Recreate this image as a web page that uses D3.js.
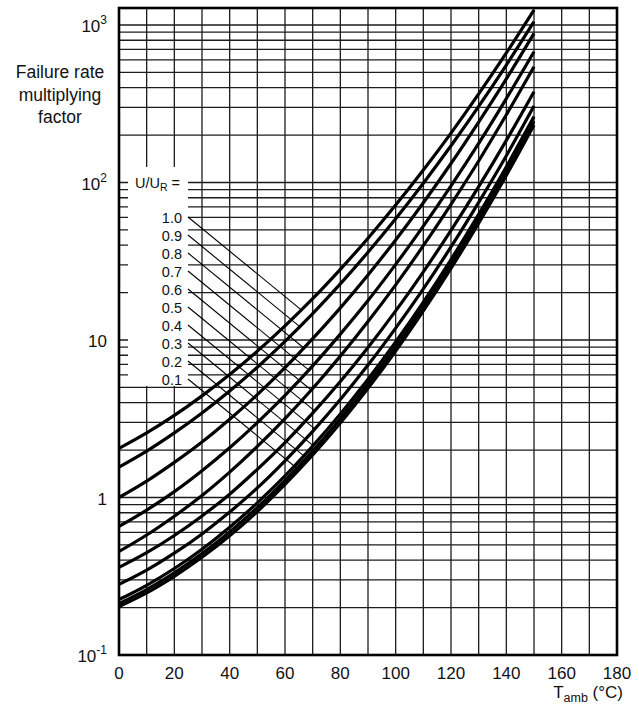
<!DOCTYPE html>
<html>
<head>
<meta charset="utf-8">
<script src="https://cdn.jsdelivr.net/npm/d3@7"></script>
<style>
  body { margin: 0; background: #fff; }
  svg { display: block; }
  text { font-family: "Liberation Sans", Arial, Helvetica, sans-serif; fill: #111; }
</style>
</head>
<body>
<div id="chart"></div>
<script>
// ambient temperature, degC
const temps = [0, 10, 20, 30, 40, 50, 60, 70, 80, 90, 100, 110, 120, 130, 140, 150];
const ratioLabels = ["1.0", "0.9", "0.8", "0.7", "0.6", "0.5", "0.4", "0.3", "0.2", "0.1"];

// failure rate multiplying factor
const f10 = [2.05, 2.57, 3.32, 4.42, 6.04, 8.50, 12.3, 18.3, 28.1, 44.3, 71.9, 120, 206, 365, 665, 1245];
const f09 = [1.56, 1.97, 2.57, 3.44, 4.74, 6.72, 9.80, 14.7, 22.7, 36.1, 58.9, 99.0, 171, 304, 557, 1050];
const f08 = [1.00, 1.27, 1.67, 2.25, 3.14, 4.50, 6.67, 10.2, 16.0, 25.9, 43.2, 74.4, 132, 242, 455, 885];
const f07 = [0.655, 0.832, 1.09, 1.48, 2.07, 2.99, 4.45, 6.85, 10.9, 17.8, 30.2, 52.8, 95.2, 177, 341, 676];
const f06 = [0.454, 0.578, 0.761, 1.03, 1.45, 2.11, 3.17, 4.92, 7.90, 13.1, 22.4, 39.7, 72.7, 137, 269, 543];
const f05 = [0.360, 0.446, 0.574, 0.764, 1.05, 1.51, 2.23, 3.43, 5.45, 8.97, 15.3, 27.1, 49.6, 94.1, 185, 377];
const f04 = [0.281, 0.346, 0.443, 0.587, 0.808, 1.15, 1.71, 2.63, 4.19, 6.93, 11.9, 21.1, 39.0, 74.8, 148, 306];
const f03 = [0.225, 0.277, 0.354, 0.469, 0.647, 0.925, 1.37, 2.12, 3.39, 5.64, 9.73, 17.4, 32.4, 62.7, 126, 262];
const f02 = [0.212, 0.260, 0.332, 0.440, 0.604, 0.863, 1.28, 1.97, 3.16, 5.25, 9.06, 16.2, 30.3, 58.5, 118, 245];
const f01 = [0.203, 0.248, 0.316, 0.417, 0.571, 0.814, 1.21, 1.86, 2.97, 4.93, 8.51, 15.3, 28.5, 55.2, 111, 232];
const series = [f10, f09, f08, f07, f06, f05, f04, f03, f02, f01];

const xTicks = [0, 20, 40, 60, 80, 100, 120, 140, 160, 180];
const yTickVals = [0.1, 1, 10, 100, 1000];
const yTickBase = ["10", "1", "10", "10", "10"];
const yTickExp = ["-1", "", "", "2", "3"];

const width = 639;
const height = 704;
const plotLeft = 119, plotRight = 617, plotTop = 8, plotBottom = 655;

const svg = d3.select("#chart")
    .append("svg")
    .attr("width", width)
    .attr("height", height);

const x = d3.scaleLinear()
    .domain([0, 180])
    .range([plotLeft, plotRight]);

const y = d3.scaleLog()
    .domain([0.1, 1000])
    .range([plotBottom, 25]);

// grid
const grid = svg.append("g")
    .attr("stroke", "#1c1c1c")
    .attr("stroke-width", 1.3);

grid.selectAll("line.v")
    .data(d3.range(10, 180, 10))
    .enter()
    .append("line")
    .attr("class", "v")
    .attr("x1", d => x(d)).attr("x2", d => x(d))
    .attr("y1", plotTop).attr("y2", plotBottom);

const hVals = [];
[-1, 0, 1, 2].forEach(p => {
    for (let k = 1; k <= 9; k++) {
        if (p === -1 && k === 1) continue;
        hVals.push(k * Math.pow(10, p));
    }
});
hVals.push(1000);

grid.selectAll("line.h")
    .data(hVals)
    .enter()
    .append("line")
    .attr("class", "h")
    .attr("x1", plotLeft).attr("x2", plotRight)
    .attr("y1", d => y(d)).attr("y2", d => y(d));

// white box behind the U/UR legend
svg.append("rect")
    .attr("x", 128).attr("y", 167)
    .attr("width", 60).attr("height", 219)
    .attr("fill", "#fff");

// curves
const line = d3.line()
    .x((d, i) => x(temps[i]))
    .y(d => y(d))
    .curve(d3.curveMonotoneX);

const curves = svg.append("g")
    .attr("fill", "none")
    .attr("stroke", "#000")
    .attr("stroke-width", 3.2);

const paths = curves.selectAll("path")
    .data(series)
    .enter()
    .append("path")
    .attr("d", line);

// legend labels + leader lines
const labelX = 182, leadX = 188, labelY0 = 218, labelStep = 18, leadSlope = 0.82;

svg.append("text")
    .attr("x", 135).attr("y", 188)
    .attr("font-size", 14.5)
    .text("U/U")
    .append("tspan").attr("font-size", 10.5).attr("dy", 3).text("R")
    .append("tspan").attr("font-size", 14.5).attr("dy", -3).text(" =");

const leaders = svg.append("g")
    .attr("stroke", "#000")
    .attr("stroke-width", 1.1);

ratioLabels.forEach((lab, i) => {
    const ly = labelY0 + i * labelStep;
    svg.append("text")
        .attr("x", labelX).attr("y", ly + 5)
        .attr("text-anchor", "end")
        .attr("font-size", 14.5)
        .text(lab);

    const sy = ly - 1;
    const node = paths.nodes()[i];
    const total = node.getTotalLength();
    let end = null;
    for (let s = 0; s <= total; s += 0.5) {
        const p = node.getPointAtLength(s);
        if (p.x > leadX && p.y <= sy + leadSlope * (p.x - leadX)) { end = p; break; }
    }
    if (end) {
        leaders.append("line")
            .attr("x1", leadX).attr("y1", sy)
            .attr("x2", end.x).attr("y2", sy + leadSlope * (end.x - leadX));
    }
});

// frame
svg.append("rect")
    .attr("x", plotLeft).attr("y", plotTop)
    .attr("width", plotRight - plotLeft)
    .attr("height", plotBottom - plotTop)
    .attr("fill", "none")
    .attr("stroke", "#000")
    .attr("stroke-width", 2.6);

// x tick labels
svg.selectAll("text.xt")
    .data(xTicks)
    .enter()
    .append("text")
    .attr("class", "xt")
    .attr("x", d => x(d))
    .attr("y", 679)
    .attr("text-anchor", "middle")
    .attr("font-size", 17)
    .text(d => d);

// y tick labels
yTickVals.forEach((v, i) => {
    const t = svg.append("text")
        .attr("x", 107)
        .attr("y", y(v) + 7)
        .attr("text-anchor", "end")
        .attr("font-size", 17)
        .text(yTickBase[i]);
    if (yTickExp[i]) {
        t.append("tspan")
            .attr("font-size", 12)
            .attr("dy", -8)
            .text(yTickExp[i]);
    }
});

// axis titles
const yTitle = ["Failure rate", "multiplying", "factor"];
svg.selectAll("text.yt")
    .data(yTitle)
    .enter()
    .append("text")
    .attr("class", "yt")
    .attr("x", 60)
    .attr("y", (d, i) => 78 + i * 22.5)
    .attr("text-anchor", "middle")
    .attr("font-size", 17.5)
    .text(d => d);

const xt = svg.append("text")
    .attr("x", 623).attr("y", 698)
    .attr("text-anchor", "end")
    .attr("font-size", 17);
xt.append("tspan").text("T");
xt.append("tspan").attr("font-size", 12.5).attr("dy", 4).text("amb");
xt.append("tspan").attr("dy", -4).text(" (°C)");
</script>
</body>
</html>
